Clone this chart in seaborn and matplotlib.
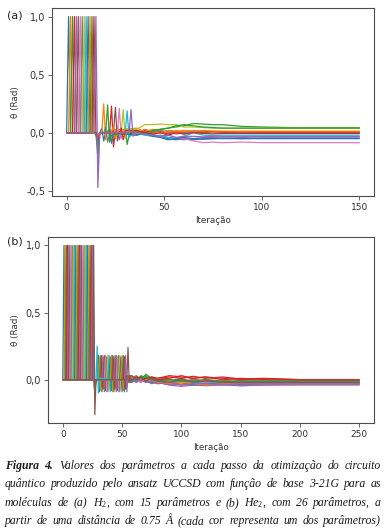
import pandas as pd
import seaborn as sns
import matplotlib
matplotlib.use("Agg")
from matplotlib import pyplot as plt

# ---------------- panel (a): H2, 15 parameters ----------------
BASELINE = 0.0
TOP = 1.0
START_IT = 0
SPIKE_A = [1, 2, 3, 4, 5, 6, 7, 8, 9, 10, 11, 12, 13, 14, 15]
DIVE_IT_A = 16
DIVE_A = [-0.03, -0.08, -0.05, -0.1, -0.04, -0.02, -0.06, -0.1, -0.03, -0.05, -0.12, -0.04, -0.22, -0.06, -0.47]
PEAK_AT_A = [18, 19, 30, 23, 26, 25, 27, 20, 29, 31, 22, 24, 21, 28, 33]
PEAK_A = [0.04, 0.25, 0.05, 0.23, 0.06, 0.22, 0.21, 0.05, 0.20, 0.19, 0.03, 0.06, 0.24, 0.04, 0.20]
TROUGH_A = [-0.07, -0.06, -0.1, -0.12, -0.06, -0.07, -0.05, -0.08, -0.05, -0.04, -0.09, -0.05, -0.08, -0.06, -0.03]
SETTLE_A = [0.01, 0.02, -0.02, 0.01, -0.01, 0.0, 0.02, -0.01, 0.03, -0.02, 0.0, 0.01, -0.02, 0.02, -0.01]
GRID_A = [36, 40, 44, 48, 52, 56, 60, 65, 70, 75, 80, 90, 100, 115, 150]
TAIL_A = [
    [-0.01, 0.01, -0.02, -0.03, -0.05, -0.06, -0.05, -0.06, -0.05, -0.05, -0.045, -0.05, -0.045, -0.045, -0.045],
    [0.04, 0.01, 0.03, 0.02, 0.0, 0.02, 0.01, 0.02, 0.01, 0.015, 0.01, 0.01, 0.01, 0.01, 0.01],
    [0.02, 0.0, 0.02, 0.03, 0.04, 0.05, 0.06, 0.08, 0.075, 0.07, 0.07, 0.055, 0.05, 0.045, 0.045],
    [-0.01, 0.02, 0.0, 0.01, -0.01, 0.01, -0.01, 0.01, 0.0, 0.01, 0.005, 0.0, 0.0, 0.0, 0.0],
    [-0.02, 0.01, -0.02, -0.03, -0.04, -0.05, -0.06, -0.05, -0.04, -0.04, -0.035, -0.04, -0.035, -0.035, -0.035],
    [0.02, -0.01, 0.01, 0.0, 0.02, 0.01, 0.0, 0.01, 0.005, 0.01, 0.005, 0.005, 0.005, 0.005, 0.005],
    [0.0, -0.02, -0.01, -0.03, -0.02, -0.04, -0.05, -0.07, -0.085, -0.08, -0.085, -0.08, -0.085, -0.085, -0.085],
    [0.01, -0.01, 0.0, 0.02, 0.01, -0.01, 0.0, 0.01, -0.005, 0.0, -0.005, 0.0, -0.005, -0.005, -0.005],
    [0.03, 0.07, 0.07, 0.075, 0.07, 0.07, 0.05, 0.05, 0.045, 0.04, 0.04, 0.04, 0.04, 0.04, 0.04],
    [0.0, -0.02, -0.03, -0.02, -0.04, -0.05, -0.03, 0.0, -0.02, -0.025, -0.02, -0.02, -0.02, -0.02, -0.02],
    [-0.02, 0.0, -0.03, -0.04, -0.06, -0.05, -0.04, -0.05, -0.055, -0.05, -0.05, -0.05, -0.05, -0.05, -0.05],
    [0.0, 0.03, 0.01, 0.0, 0.02, 0.01, 0.02, 0.015, 0.02, 0.015, 0.015, 0.015, 0.015, 0.015, 0.015],
    [0.01, 0.0, 0.01, 0.03, 0.04, 0.06, 0.07, 0.06, 0.05, 0.045, 0.04, 0.04, 0.04, 0.04, 0.04],
    [0.02, 0.0, -0.01, 0.0, -0.02, 0.0, -0.01, 0.0, -0.005, -0.01, -0.005, -0.005, -0.005, -0.005, -0.005],
    [0.0, -0.01, -0.02, -0.03, -0.02, -0.04, -0.03, -0.03, -0.035, -0.03, -0.03, -0.03, -0.03, -0.03, -0.03],
]

# ---------------- panel (b): He2, 26 parameters ----------------
SPIKE_B = list(range(1, 27))
DIVE_IT_B = 27
DIVE_B = [-0.02, 0.0, -0.04, -0.01, -0.08, 0.0, -0.03, -0.05, 0.0, -0.1, -0.02, -0.06, 0.0,
          -0.03, -0.09, 0.0, -0.04, -0.01, -0.05, 0.0, -0.03, -0.07, 0.0, -0.02, -0.04, -0.26]
PEAK_AT_B = [30, 31, 32, 33, 34, 35, 36, 37, 38, 39, 40, 41, 42, 43, 44, 45, 46, 47, 48, 29, 49, 50, 51, 52, 53, 55]
PEAK_B = [0.18, 0.17, 0.18, 0.18, 0.17, 0.18, 0.18, 0.17, 0.18, 0.18, 0.17, 0.18, 0.18,
          0.17, 0.18, 0.18, 0.17, 0.18, 0.18, 0.25, 0.17, 0.18, 0.18, 0.17, 0.18, 0.24]
TROUGH_B = [-0.09, -0.08, -0.09, -0.07, -0.09, -0.08, -0.09, -0.09, -0.07, -0.09, -0.08, -0.09, -0.09,
            -0.07, -0.09, -0.08, -0.09, -0.09, -0.07, -0.1, -0.09, -0.08, -0.09, -0.07, -0.09, -0.02]
SETTLE_B = [0.01, -0.01, 0.0, 0.02, -0.02, 0.01, 0.0, -0.01, 0.02, 0.0, -0.01, 0.01, 0.0,
            -0.02, 0.01, 0.0, 0.02, -0.01, 0.0, 0.01, -0.02, 0.0, 0.01, -0.01, 0.02, 0.03]
GRID_B = [58, 62, 66, 70, 75, 80, 90, 100, 110, 120, 135, 150, 170, 200, 250]
TAIL_B = [
    [0.02, -0.01, 0.01, 0.0, -0.02, 0.01, -0.03, -0.01, -0.02, -0.03, -0.01, -0.025, -0.015, -0.02, -0.02],
    [-0.02, 0.01, -0.01, 0.02, 0.0, -0.01, -0.02, -0.04, -0.03, -0.02, -0.04, -0.03, -0.035, -0.03, -0.03],
    [0.01, 0.03, 0.0, 0.04, 0.01, 0.0, -0.01, 0.01, -0.02, -0.01, -0.02, -0.01, -0.02, -0.015, -0.015],
    [0.0, -0.01, 0.02, 0.01, 0.0, 0.01, 0.02, 0.01, 0.025, 0.01, 0.02, 0.005, 0.01, 0.0, 0.0],
    [-0.01, 0.0, -0.02, 0.01, -0.01, -0.02, -0.04, -0.03, -0.04, -0.035, -0.03, -0.045, -0.04, -0.035, -0.035],
    [0.03, 0.0, 0.01, -0.01, 0.01, 0.0, -0.01, 0.0, -0.02, 0.0, -0.01, -0.015, -0.01, -0.01, -0.01],
    [-0.02, 0.02, 0.0, -0.01, 0.0, -0.02, -0.01, -0.03, -0.02, -0.03, -0.02, -0.03, -0.025, -0.025, -0.025],
    [0.01, -0.02, 0.02, 0.0, -0.01, 0.0, -0.02, -0.01, -0.03, -0.02, -0.01, -0.02, -0.02, -0.02, -0.02],
    [0.0, 0.01, -0.01, 0.02, -0.02, -0.01, -0.02, -0.03, -0.02, -0.04, -0.03, -0.035, -0.03, -0.03, -0.03],
    [-0.01, 0.02, 0.01, 0.0, 0.01, -0.01, 0.0, -0.02, -0.01, -0.02, -0.01, -0.02, -0.015, -0.015, -0.015],
    [0.02, -0.01, 0.0, -0.02, 0.0, -0.01, -0.03, -0.02, -0.03, -0.02, -0.03, -0.025, -0.025, -0.025, -0.025],
    [-0.01, 0.0, 0.02, -0.01, -0.02, -0.03, -0.02, -0.04, -0.03, -0.04, -0.035, -0.04, -0.035, -0.035, -0.035],
    [0.02, 0.01, -0.01, 0.03, 0.0, 0.01, -0.01, 0.0, -0.02, -0.01, -0.02, -0.015, -0.02, -0.02, -0.02],
    [0.01, 0.0, 0.01, -0.01, 0.02, 0.01, 0.03, 0.02, 0.01, 0.02, 0.0, 0.01, 0.0, -0.005, -0.005],
    [0.0, -0.02, 0.0, -0.01, -0.03, -0.02, -0.04, -0.05, -0.04, -0.045, -0.04, -0.045, -0.04, -0.04, -0.04],
    [-0.02, 0.01, 0.0, 0.01, -0.01, 0.0, -0.01, -0.02, 0.0, -0.01, -0.02, -0.01, -0.015, -0.015, -0.015],
    [0.01, 0.0, -0.02, 0.0, 0.01, -0.01, -0.02, -0.01, -0.03, -0.02, -0.015, -0.025, -0.02, -0.02, -0.02],
    [0.0, 0.02, 0.01, -0.01, 0.0, 0.01, 0.0, -0.01, 0.0, -0.01, -0.005, -0.015, -0.01, -0.01, -0.01],
    [0.02, -0.01, 0.01, 0.0, -0.01, -0.02, -0.01, -0.03, -0.02, -0.03, -0.025, -0.02, -0.025, -0.025, -0.025],
    [-0.01, 0.01, -0.01, 0.02, 0.0, -0.01, -0.02, -0.01, -0.02, -0.03, -0.02, -0.025, -0.02, -0.02, -0.02],
    [0.0, -0.01, 0.02, -0.01, -0.02, -0.01, -0.03, -0.02, -0.04, -0.03, -0.03, -0.035, -0.03, -0.03, -0.03],
    [0.01, 0.02, -0.01, 0.0, -0.01, -0.02, -0.03, -0.02, -0.03, -0.04, -0.03, -0.03, -0.03, -0.03, -0.03],
    [-0.01, 0.0, 0.03, 0.01, 0.0, -0.01, 0.0, -0.01, -0.01, 0.0, -0.015, -0.01, -0.01, -0.01, -0.01],
    [0.0, 0.02, 0.0, 0.01, 0.02, 0.0, 0.01, 0.03, 0.01, 0.02, 0.01, 0.0, 0.005, 0.0, 0.0],
    [0.01, -0.01, 0.0, -0.02, -0.01, -0.03, -0.02, -0.04, -0.03, -0.03, -0.035, -0.03, -0.03, -0.03, -0.03],
    [0.03, 0.0, 0.02, -0.01, 0.01, -0.01, -0.02, 0.0, -0.02, -0.01, -0.02, -0.02, -0.02, -0.02, -0.02],
]

YTICKS_A = [-0.5, 0.0, 0.5, 1.0]
YTICKLABELS_A = ["-0,5", "0,0", "0,5", "1,0"]
YTICKS_B = [0.0, 0.5, 1.0]
YTICKLABELS_B = ["0,0", "0,5", "1,0"]
XTICKS_A = [0, 50, 100, 150]
XTICKS_B = [0, 50, 100, 150, 200, 250]

CAPTION = [
    [("Figura", True), ("4.", True), ("Valores", False), ("dos", False), ("parâmetros", False), ("a", False),
     ("cada", False), ("passo", False), ("da", False), ("otimização", False), ("do", False), ("circuito", False)],
    [(w, False) for w in "quântico produzido pelo ansatz UCCSD com função de base 3-21G para as".split()],
    [(w, False) for w in ["moléculas", "de", "(a)", "H$_2$,", "com", "15", "parâmetros", "e", "(b)",
                          "He$_2$,", "com", "26", "parâmetros,", "a"]],
    [(w, False) for w in "partir de uma distância de 0.75 Å (cada cor representa um dos parâmetros)".split()],
]


def build(spike, dive_it, dive, peak_at, peak, trough, settle, grid, tail):
    rows = []
    for i in range(len(spike)):
        s, p = spike[i], peak_at[i]
        # zero baseline around the perturbation pulses
        pts = {START_IT: BASELINE, dive_it - 1: BASELINE}
        pts[s - 1] = BASELINE
        pts[s] = TOP
        pts[s + 1] = BASELINE
        pts[dive_it] = dive[i]
        pts[dive_it + 1] = BASELINE
        pts[p - 1] = BASELINE
        pts[p] = peak[i]
        pts[p + 1] = trough[i]
        pts[p + 2] = settle[i]
        for g, v in zip(grid, tail[i]):
            pts[g] = v
        for it in sorted(pts):
            rows.append({"iter": it, "theta": pts[it], "param": "p%02d" % i})
    return pd.DataFrame(rows)


df_a = build(SPIKE_A, DIVE_IT_A, DIVE_A, PEAK_AT_A, PEAK_A, TROUGH_A, SETTLE_A, GRID_A, TAIL_A)
df_b = build(SPIKE_B, DIVE_IT_B, DIVE_B, PEAK_AT_B, PEAK_B, TROUGH_B, SETTLE_B, GRID_B, TAIL_B)

sns.set_style("ticks")
plt.rcParams["mathtext.fontset"] = "custom"
plt.rcParams["mathtext.rm"] = "Liberation Serif"
plt.rcParams["mathtext.it"] = "Liberation Serif:italic"

W, H = 385, 529
fig = plt.figure(figsize=(W / 100, H / 100), dpi=100)
ax_a = fig.add_axes([52 / W, 1 - 196 / H, (374 - 52) / W, (196 - 8) / H])
ax_b = fig.add_axes([48 / W, 1 - 423 / H, (374 - 48) / W, (423 - 237) / H])

edge = "#4d4d4d"
for ax, df, xt, yt, ytl in [(ax_a, df_a, XTICKS_A, YTICKS_A, YTICKLABELS_A),
                            (ax_b, df_b, XTICKS_B, YTICKS_B, YTICKLABELS_B)]:
    order = sorted(df["param"].unique())
    pal = sns.color_palette("tab10", len(order))
    sns.lineplot(data=df, x="iter", y="theta", hue="param", hue_order=order, palette=pal,
                 estimator=None, sort=False, legend=False, lw=0.9, ax=ax)
    ax.set_xticks(xt)
    ax.set_xticklabels([str(v) for v in xt], fontsize=6.5, color="#333333")
    ax.set_yticks(yt)
    ax.set_yticklabels(ytl, fontsize=7, color="#333333")
    ax.set_xlabel("Iteração", fontsize=6.3, color="#333333", labelpad=3)
    ax.set_ylabel("θ (Rad)", fontsize=6.3, color="#333333", labelpad=4)
    ax.tick_params(length=3, width=0.6, color=edge, pad=2)
    for sp in ax.spines.values():
        sp.set_color(edge)
        sp.set_linewidth(0.8)

fig.text(15 / W, 1 - 15 / H, "(a)", fontsize=8, ha="center", va="center", color="#222222")
fig.text(15 / W, 1 - 241 / H, "(b)", fontsize=8, ha="center", va="center", color="#222222")

# justified caption
fig.canvas.draw()
renderer = fig.canvas.get_renderer()
left, right = 5, 381
line_y = [466, 484, 503, 521]
for words, y in zip(CAPTION, line_y):
    texts = []
    for w, bold in words:
        t = fig.text(0, 1 - y / H, w, fontsize=8.45, family="Liberation Serif", style="italic",
                     weight="bold" if bold else "normal", va="center", ha="left", color="#1a1a1a")
        texts.append(t)
    widths = [t.get_window_extent(renderer).width for t in texts]
    gap = (right - left - sum(widths)) / (len(texts) - 1)
    x = left
    for t, wd in zip(texts, widths):
        t.set_x(x / W)
        x += wd + gap

fig.savefig("out.png", dpi=100)
